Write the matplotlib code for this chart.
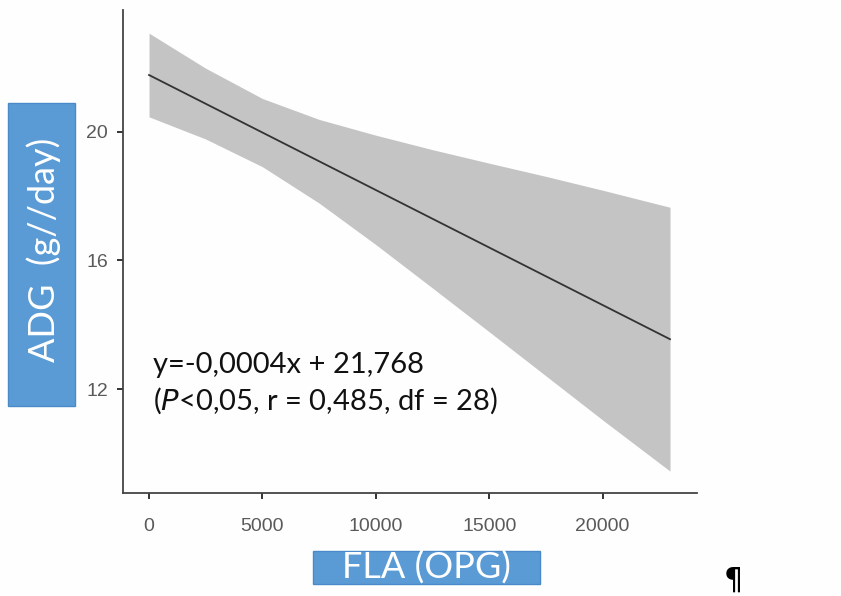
import numpy as np
import matplotlib.pyplot as plt
from matplotlib.patches import Rectangle

# fitted line
line_x = [0, 22970]
line_y = [21.76, 13.55]

# confidence band edges, read at even steps
band_x = [0, 2500, 5000, 7500, 10000, 12500, 15000, 17500, 20000, 22972]
upper_y = [23.06, 21.97, 21.03, 20.38, 19.89, 19.44, 19.02, 18.61, 18.18, 17.65]
lower_y = [20.46, 19.77, 18.91, 17.78, 16.49, 15.14, 13.78, 12.41, 11.04, 9.45]

x_ticks = [0, 5000, 10000, 15000, 20000]
y_ticks = [12, 16, 20]

eq_text = "y=-0,0004x + 21,768"
stat_text = r"($\it{P}$<0,05, r = 0,485, df = 28)"

blue = '#5b9bd5'

fig = plt.figure(figsize=(8.41, 5.96), dpi=100)
fig.patch.set_facecolor('#fdfefd')
ax = fig.add_axes([0.1463, 0.1728, 0.6825, 0.8104])
ax.set_facecolor('#fdfefd')

ax.fill_between(band_x, lower_y, upper_y, color='#c4c4c4', linewidth=0)
ax.plot(line_x, line_y, color='#333333', lw=1.3)

ax.set_xlim(-1146, 24162)
ax.set_ylim(8.77, 23.78)
ax.set_xticks(x_ticks)
ax.set_yticks(y_ticks)
ax.tick_params(length=4, width=1.4, color='#333333', labelcolor='#5a5a5a',
               labelsize=14)
ax.tick_params(axis='x', pad=14)
ax.tick_params(axis='y', pad=7)
for lab in ax.get_xticklabels() + ax.get_yticklabels():
    lab.set_family('Liberation Sans')
for s in ['top', 'right']:
    ax.spines[s].set_visible(False)
for s in ['left', 'bottom']:
    ax.spines[s].set_color('#444444')
    ax.spines[s].set_linewidth(1.3)

# annotation, placed in pixel terms of the figure
fig.text(153 / 841, (596 - 384) / 596, eq_text + "\n" + stat_text,
         fontsize=21, family='Lato', color='#111111', va='center',
         linespacing=1.3)

# blue label boxes
fig.patches.append(Rectangle((8 / 841, (596 - 406) / 596), 67 / 841, 303 / 596,
                             transform=fig.transFigure, facecolor=blue,
                             edgecolor='#4a8ac8', lw=1))
fig.text(44 / 841, (596 - 250) / 596, "ADG  (g//day)", rotation=90,
         color='white', fontsize=26, family='Lato', ha='center', va='center')

fig.patches.append(Rectangle((313 / 841, (596 - 584) / 596), 227 / 841, 33 / 596,
                             transform=fig.transFigure, facecolor=blue,
                             edgecolor='#4a8ac8', lw=1))
fig.text(426.5 / 841, (596 - 568) / 596, "FLA (OPG)", color='white',
         fontsize=26, family='Lato', ha='center', va='center')

fig.text(733 / 841, (596 - 580) / 596, "\u00b6", color='black', fontsize=22,
         ha='center', va='center')

fig.savefig('out.png', dpi=100, facecolor=fig.get_facecolor())
